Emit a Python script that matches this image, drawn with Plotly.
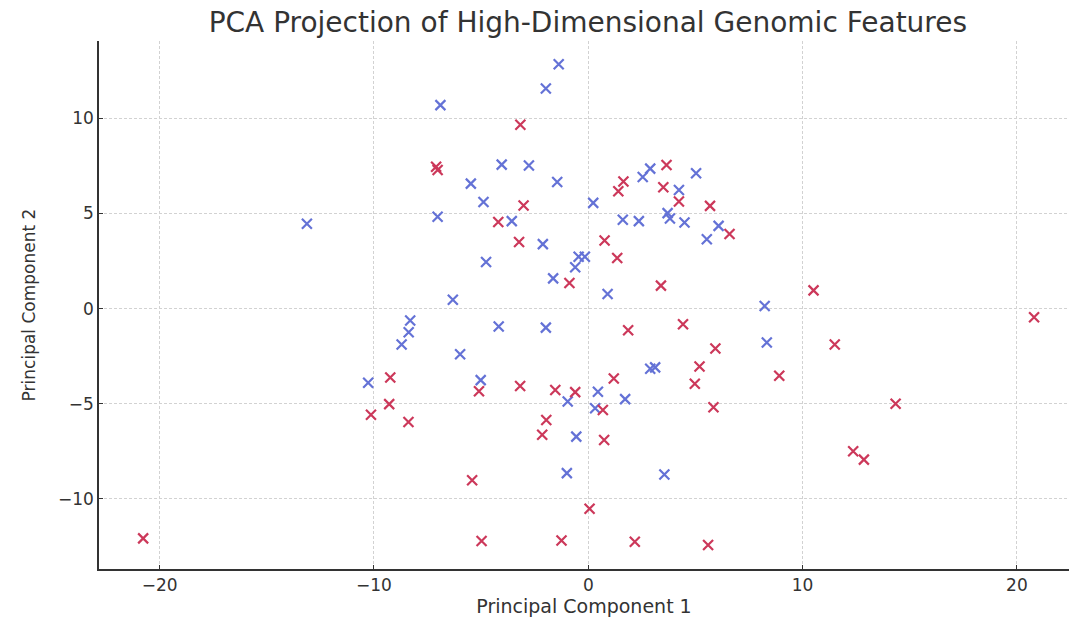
import plotly.graph_objects as go

# Group A (blue)
blue_x = [-13.13, -6.90, -7.03, -5.48, -4.89, -4.77, -6.32, -4.04, -2.77, -3.57,
          -1.38, -1.98, -1.45, 0.23, 2.89, 2.54, 5.03, 4.23, 1.61, 2.36,
          3.70, 3.81, 4.49, 6.08, 5.53, -2.12, -0.45, -0.16, -0.61, -1.64,
          0.90, 8.23, -8.31, -8.38, -8.71, -5.98, -4.18, -10.27, -5.02, -1.98,
          8.33, 2.89, 3.12, 0.45, -0.96, 1.72, 0.32, -0.56, -1.00, 3.55]
blue_y = [4.46, 10.70, 4.83, 6.57, 5.61, 2.45, 0.47, 7.57, 7.52, 4.60,
          12.85, 11.57, 6.66, 5.56, 7.36, 6.92, 7.12, 6.24, 4.67, 4.60,
          5.02, 4.74, 4.53, 4.35, 3.65, 3.39, 2.73, 2.73, 2.17, 1.59,
          0.77, 0.14, -0.62, -1.24, -1.89, -2.40, -0.94, -3.90, -3.76, -1.00,
          -1.78, -3.16, -3.09, -4.37, -4.88, -4.76, -5.24, -6.73, -8.65, -8.72]

# Group B (red)
red_x = [-7.10, -7.03, -3.17, -3.02, -4.20, -3.23, 3.65, 1.64, 1.40, 3.50,
         4.23, 5.68, 6.59, 0.76, 1.35, -0.88, 3.39, 10.51, 20.80, -9.24,
         -9.29, -10.14, -8.39, -5.10, -3.18, -5.42, -4.98, -20.77, 1.86, 4.42,
         5.93, 5.19, 4.97, 1.19, -1.54, -0.61, 0.68, 5.84, 8.91, 11.50,
         14.34, -1.96, -2.15, 0.74, 12.36, 12.86, 0.06, -1.25, 2.17, 5.59]
red_y = [7.46, 7.29, 9.67, 5.42, 4.55, 3.50, 7.55, 6.68, 6.17, 6.38,
         5.63, 5.40, 3.92, 3.58, 2.66, 1.35, 1.21, 0.96, -0.45, -3.62,
         -5.02, -5.58, -5.96, -4.34, -4.07, -9.02, -12.22, -12.08, -1.14, -0.82,
         -2.10, -3.04, -3.95, -3.67, -4.28, -4.39, -5.33, -5.19, -3.53, -1.89,
         -5.00, -5.86, -6.63, -6.91, -7.50, -7.94, -10.52, -12.19, -12.26, -12.43]

x_ticks = [-20, -10, 0, 10, 20]
y_ticks = [-10, -5, 0, 5, 10]

title_text = "PCA Projection of High-Dimensional Genomic Features"
x_label = "Principal Component 1"
y_label = "Principal Component 2"

FONT = "DejaVu Sans"
TEXT = "#333333"
BLUE = "rgb(100,114,214)"
RED = "rgb(204,56,90)"

fig = go.Figure()
fig.add_trace(go.Scatter(
    x=blue_x, y=blue_y, mode="markers", name="Group A",
    marker=dict(symbol="x-thin-open", size=10, color=BLUE,
                line=dict(color=BLUE, width=2.2)),
))
fig.add_trace(go.Scatter(
    x=red_x, y=red_y, mode="markers", name="Group B",
    marker=dict(symbol="x-thin-open", size=10, color=RED,
                line=dict(color=RED, width=2.2)),
))

axis_common = dict(
    showgrid=True, gridcolor="#d2d2d2", griddash="3px,2px", gridwidth=0.8,
    zeroline=False, showline=True, linecolor="#333333", linewidth=1.6,
    ticks="inside", ticklen=4, tickcolor="#333333",
    tickfont=dict(family=FONT, size=17, color=TEXT),
    automargin=False,
)

fig.update_layout(
    width=1069, height=617,
    paper_bgcolor="white", plot_bgcolor="white",
    showlegend=False,
    margin=dict(l=99, r=0, t=41, b=48),
    title=dict(text=title_text, x=0.504, xref="paper", xanchor="center",
               y=1 - 22 / 617, yref="container", yanchor="middle",
               font=dict(family=FONT, size=28, color=TEXT)),
    xaxis=dict(range=[-22.83, 22.43], tickvals=x_ticks,
               title=dict(text=x_label, standoff=4,
                          font=dict(family=FONT, size=19, color=TEXT)),
               **axis_common),
    yaxis=dict(range=[-13.69, 14.07], tickvals=y_ticks,
               title=dict(text=y_label, standoff=18,
                          font=dict(family=FONT, size=17, color=TEXT)),
               **axis_common),
)

fig.write_html(
    "out.html",
    config={"displayModeBar": False},
    post_script="document.body.style.margin='0';document.body.style.overflow='hidden';",
)
